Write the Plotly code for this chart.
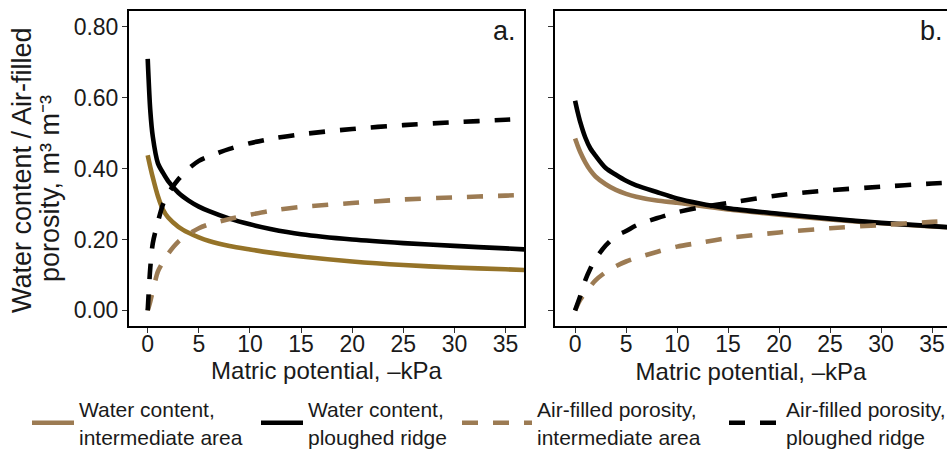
import plotly.graph_objects as go

W, H = 947, 451

# Matric potential (-kPa)
potential = [0, 0.25, 0.5, 1, 1.5, 2, 3, 4, 5, 6, 8, 10, 12, 15, 20, 25, 30, 35, 37]

# Panel a
wc_int_a = [0.438, 0.405, 0.375, 0.322, 0.284, 0.262, 0.236, 0.219, 0.206, 0.196, 0.182, 0.172, 0.163, 0.152, 0.138, 0.128, 0.121, 0.116, 0.114]
wc_rid_a = [0.71, 0.565, 0.49, 0.415, 0.388, 0.365, 0.332, 0.31, 0.293, 0.28, 0.259, 0.243, 0.23, 0.215, 0.2, 0.19, 0.182, 0.175, 0.172]
afp_int_a = [0, 0.025, 0.055, 0.11, 0.137, 0.16, 0.194, 0.215, 0.232, 0.243, 0.258, 0.27, 0.281, 0.292, 0.303, 0.313, 0.319, 0.324, 0.326]
afp_rid_a = [0, 0.12, 0.19, 0.25, 0.30, 0.33, 0.37, 0.40, 0.422, 0.435, 0.456, 0.472, 0.484, 0.497, 0.512, 0.523, 0.531, 0.538, 0.541]

# Panel b
wc_int_b = [0.485, 0.465, 0.447, 0.418, 0.395, 0.378, 0.356, 0.34, 0.329, 0.321, 0.31, 0.304, 0.296, 0.285, 0.27, 0.257, 0.246, 0.237, 0.234]
wc_rid_b = [0.592, 0.56, 0.532, 0.488, 0.457, 0.437, 0.402, 0.383, 0.366, 0.353, 0.334, 0.316, 0.303, 0.288, 0.273, 0.259, 0.247, 0.238, 0.234]
afp_int_b = [0, 0.016, 0.03, 0.05, 0.068, 0.085, 0.108, 0.125, 0.138, 0.148, 0.165, 0.18, 0.19, 0.204, 0.22, 0.232, 0.241, 0.25, 0.253]
afp_rid_b = [0, 0.02, 0.04, 0.085, 0.118, 0.145, 0.183, 0.21, 0.224, 0.24, 0.26, 0.277, 0.289, 0.303, 0.325, 0.339, 0.349, 0.358, 0.361]

series_names = [
    "Water content,<br>intermediate area",
    "Water content,<br>ploughed ridge",
    "Air-filled porosity,<br>intermediate area",
    "Air-filled porosity,<br>ploughed ridge",
]
y_ticks = [0.0, 0.2, 0.4, 0.6, 0.8]
x_ticks = [0, 5, 10, 15, 20, 25, 30, 35]
x_title = "Matric potential, \u2013kPa"
y_title_lines = ["Water content / Air-filled", "porosity, m\u00b3 m\u207b\u00b3"]

FONT = "Liberation Sans, Arial, sans-serif"
TXT = "#1a1a1a"
GOLD = "#957328"
BROWN = "#9C7B53"
BLACK = "#000000"
DASH = "16px,15px"
LW = 4.6

def px(x):
    return x / W

def py(y):
    return 1 - y / H

fig = go.Figure()

styles = [
    (BROWN, "solid"),
    (BLACK, "solid"),
    (BROWN, DASH),
    (BLACK, DASH),
]
legends = ["legend", "legend2", "legend3", "legend4"]

panel_a = [wc_int_a, wc_rid_a, afp_int_a, afp_rid_a]
panel_b = [wc_int_b, wc_rid_b, afp_int_b, afp_rid_b]

for i, vals in enumerate(panel_a):
    col, dash = styles[i]
    if i == 0:
        col = GOLD
    fig.add_trace(go.Scatter(
        x=potential, y=vals, mode="lines", xaxis="x", yaxis="y",
        line=dict(color=col, width=LW, dash=dash, shape="spline", smoothing=0.8),
        showlegend=False, hoverinfo="skip"))

for i, vals in enumerate(panel_b):
    col, dash = styles[i]
    fig.add_trace(go.Scatter(
        x=potential, y=vals, mode="lines", xaxis="x2", yaxis="y2",
        name=series_names[i], legend=legends[i],
        line=dict(color=col, width=LW, dash=dash, shape="spline", smoothing=0.8),
        showlegend=True, hoverinfo="skip"))

axis_common = dict(
    showline=True, linecolor="black", linewidth=2,
    ticks="outside", ticklen=5, tickwidth=1.2, tickcolor="#333",
    showgrid=False, zeroline=False,
    tickfont=dict(family=FONT, size=23, color=TXT),
)

ydom = [py(326), py(11)]

fig.update_layout(
    width=W, height=H,
    margin=dict(l=0, r=0, t=0, b=0, autoexpand=False),
    paper_bgcolor="white", plot_bgcolor="white",
    font=dict(family=FONT, color=TXT),
    xaxis=dict(domain=[px(129), px(524)], range=[-1.83, 36.8], tickvals=x_ticks,
               mirror=True, anchor="y", ticklabelstandoff=-9,
               title=dict(text=x_title, font=dict(size=24, family=FONT, color=TXT), standoff=5),
               **axis_common),
    yaxis=dict(domain=ydom, range=[-0.044, 0.845], tickvals=y_ticks, tickformat=".2f",
               mirror=True, anchor="x", ticklabelstandoff=-1,
               **axis_common),
    xaxis2=dict(domain=[px(555), 1.0], range=[-1.97, 36.47], tickvals=x_ticks,
                mirror=True, anchor="y2", ticklabelstandoff=-9,
                title=dict(text=x_title, font=dict(size=24, family=FONT, color=TXT), standoff=8),
                **axis_common),
    yaxis2=dict(domain=ydom, range=[-0.044, 0.845], tickvals=y_ticks, showticklabels=False,
                mirror=False, anchor="x2", **axis_common),
)

# (left x, itemwidth) for each legend entry
leg_pos = [(27, 42), (256, 42), (457, 70), (724, 52)]
for name, (lx, iw) in zip(legends, leg_pos):
    fig.update_layout({name: dict(
        x=px(lx), xanchor="left", y=-6 / H, yanchor="bottom",
        orientation="v", bgcolor="rgba(0,0,0,0)", borderwidth=0,
        font=dict(family=FONT, size=21, color=TXT),
        itemwidth=iw, valign="middle",
    )})

# y-axis title, one annotation per line
for text, (cx, cy) in zip(y_title_lines, [(22, 170), (50, 189)]):
    fig.add_annotation(text=text, x=px(cx), y=py(cy), xref="paper", yref="paper",
                       xanchor="center", yanchor="middle", textangle=-90, showarrow=False,
                       font=dict(family=FONT, size=27, color=TXT))

fig.add_annotation(text="a.", x=px(518), y=py(31), xref="paper", yref="paper",
                   xanchor="right", yanchor="middle", showarrow=False,
                   font=dict(family=FONT, size=27, color=TXT))
fig.add_annotation(text="b.", x=px(945), y=py(31), xref="paper", yref="paper",
                   xanchor="right", yanchor="middle", showarrow=False,
                   font=dict(family=FONT, size=27, color=TXT))

fig.write_html("out.html")
